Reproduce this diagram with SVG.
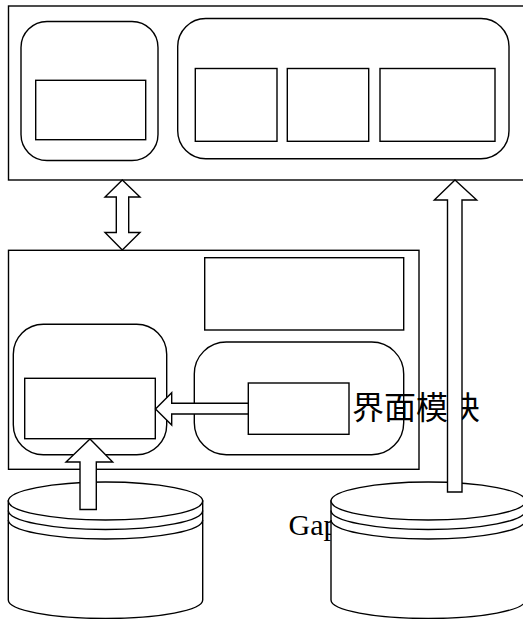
<svg xmlns="http://www.w3.org/2000/svg" width="523" height="619" viewBox="0 0 523 619">
  <style>
    .box { fill: none; stroke: #000; stroke-width: 1.4; }
    .solid { fill: #fff; stroke: #000; stroke-width: 1.4; }
    .flow { fill: #fff; stroke: #000; stroke-width: 1.4; stroke-linejoin: miter; }
    .label { font-family: "Liberation Serif", "Noto Sans CJK SC", serif; fill: #000; }
  </style>
  <rect width="523" height="619" fill="#fff"/>

  <!-- free-standing labels (drawn first so borders and arrows sit over them) -->
  <g id="labels">
    <text class="label" x="352" y="419" font-size="32">界面模块</text>
    <text class="label" x="288.5" y="535" font-size="30">Gap</text>
  </g>

  <!-- upper container -->
  <g id="top-frame">
    <rect class="box" x="8.5" y="6" width="520" height="174"/>
  </g>
  <g id="top-left-group">
    <rect class="box" x="21" y="21.5" width="137" height="139" rx="26" ry="26"/>
    <rect class="box" x="35.7" y="80.3" width="110" height="59.4"/>
  </g>
  <g id="top-right-group">
    <rect class="box" x="177.7" y="18.5" width="331.3" height="140.2" rx="28" ry="28"/>
    <rect id="top-box-1" class="box" x="195.3" y="68.5" width="81.7" height="72.8"/>
    <rect id="top-box-2" class="box" x="287.3" y="68.5" width="81.4" height="72.8"/>
    <rect id="top-box-3" class="box" x="380" y="68.5" width="115" height="72.8"/>
  </g>

  <!-- lower container -->
  <g id="bottom-frame">
    <rect class="box" x="8.5" y="250.3" width="410.5" height="219"/>
  </g>
  <g id="bottom-top-box">
    <rect class="box" x="204.7" y="257.7" width="199" height="72.3"/>
  </g>
  <g id="bottom-left-group">
    <rect class="box" x="13.3" y="324.3" width="153.4" height="130.4" rx="30" ry="30"/>
    <rect class="box" x="24.7" y="378.3" width="130.6" height="60.4"/>
  </g>
  <g id="bottom-right-group">
    <rect class="box" x="194.3" y="342" width="209.4" height="112.7" rx="32" ry="32"/>
    <rect class="box" x="248.3" y="383" width="100.7" height="51.3"/>
  </g>

  <!-- storage cylinders -->
  <g id="store-left">
    <path class="solid" d="M8.3 501 V600 A97.2 18.5 0 0 0 202.7 600 V501 Z"/>
    <ellipse class="solid" cx="105.5" cy="501" rx="97.2" ry="19"/>
    <path class="box" d="M8.3 510.5 A97.2 19 0 0 0 202.7 510.5"/>
    <path class="box" d="M8.3 520 A97.2 19 0 0 0 202.7 520"/>
  </g>
  <g id="store-right">
    <path class="solid" d="M331 501 V600 A97.2 18.5 0 0 0 525.4 600 V501 Z"/>
    <ellipse class="solid" cx="428.2" cy="501" rx="97.2" ry="19"/>
    <path class="box" d="M331 510.5 A97.2 19 0 0 0 525.4 510.5"/>
    <path class="box" d="M331 520 A97.2 19 0 0 0 525.4 520"/>
  </g>

  <!-- block arrows -->
  <g id="connectors">
    <polygon class="flow" points="122.3,180 140,197 128.7,197 128.7,232.5 140,232.5 122.3,250 105,232.5 116.3,232.5 116.3,197 105,197"/>
    <polygon class="flow" points="455,180 476.7,200 462,200 462,492 447.5,492 447.5,200 434.3,200"/>
    <polygon class="flow" points="155.5,409 171.7,392.7 171.7,403.3 248.3,403.3 248.3,414 171.7,414 171.7,425"/>
    <polygon class="flow" points="90,439 112.7,462 96.3,462 96.3,509.5 80,509.5 80,462 66,462"/>
  </g>
</svg>
